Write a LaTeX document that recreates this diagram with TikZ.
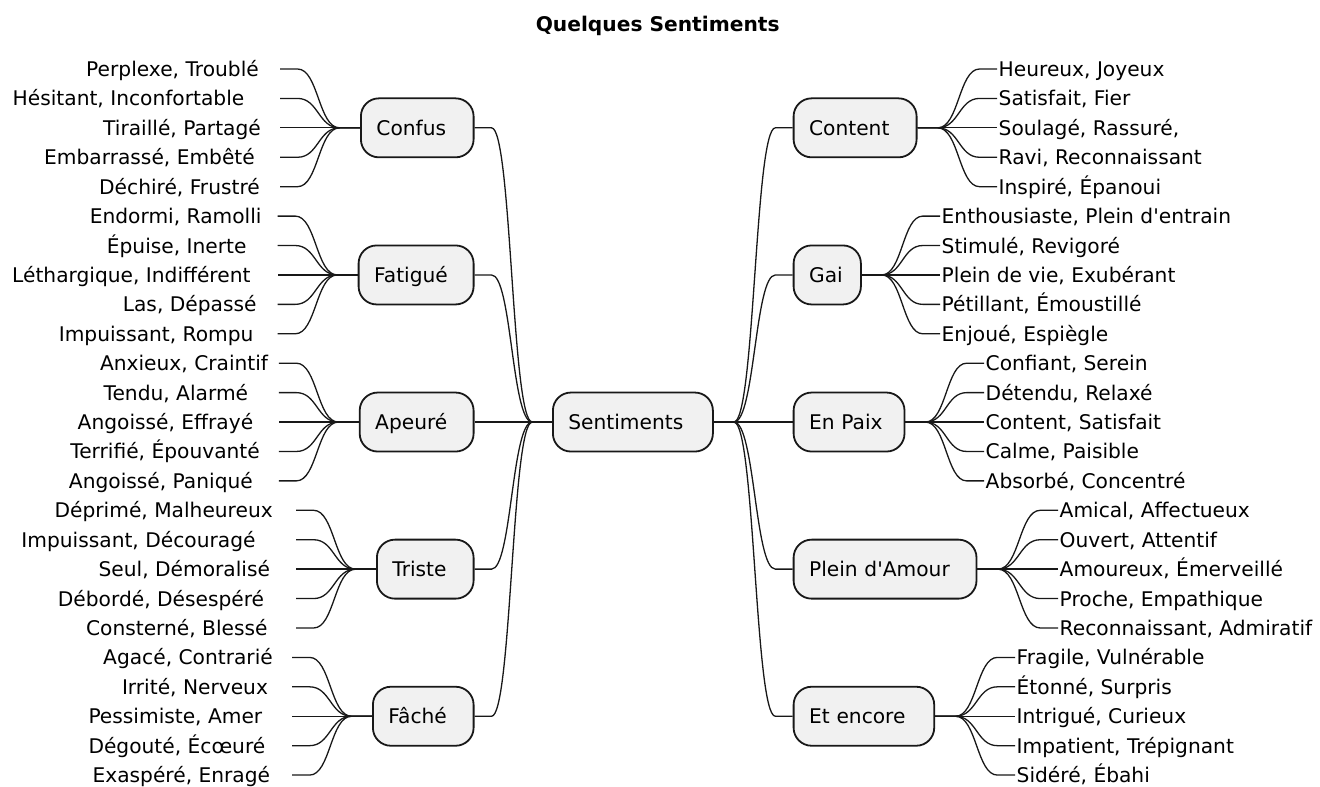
\documentclass[tikz,border=0pt]{standalone}
\usepackage{fontspec}
\setmainfont{DejaVu Sans}
\newfontfamily\mmfam{DejaVu Sans}
\usetikzlibrary{calc}
\definecolor{boxline}{HTML}{181818}
\definecolor{boxfill}{HTML}{F1F1F1}
\newcommand\mmfont{\mmfam\fontsize{20.2}{24}\selectfont}
\newcommand\mmlink[2]{\draw[link] let \p1=(#1), \p2=(#2), \n1={\x2-\x1} in (\p1) -- ({\x1+0.255*(\n1)},\y1) .. controls ({\x1+0.52*(\n1)},\y1) and ({\x1+0.52*(\n1)},\y2) .. ({\x1+0.78*(\n1)},\y2) -- (\p2);}
\tikzset{
  mm/.style={font=\mmfont, text height=18pt, text depth=3pt},
  lvl/.style={mm, draw=boxline, fill=boxfill, line width=1.8pt, rounded corners=18pt, minimum height=59pt, inner xsep=15.5pt, inner ysep=0pt, align=left, anchor=west},
  lleaf/.style={mm, inner sep=0pt, anchor=east},
  rleaf/.style={mm, inner xsep=1.5pt, inner ysep=0pt, anchor=west},
  link/.style={draw=boxline, line width=1.3pt},
}
\begin{document}
\begin{tikzpicture}[x=1pt,y=-1pt]
\useasboundingbox (0,0) rectangle (1320,787);
\node[font=\mmfam\bfseries\fontsize{20.2}{24}\selectfont, anchor=base] (title) at (657.7,31.7) {Quelques Sentiments};

% central and level-1 boxes
\node[lvl, text width=129pt] (sent) at (552,422.04) {Sentiments};
\node[lvl, text width=81.7pt] (confus) at (360,127.84) {Confus};
\node[lvl, text width=84pt] (fatigue) at (357.7,274.94) {Fatigué};
\node[lvl, text width=82.9pt] (apeure) at (358.8,422.04) {Apeuré};
\node[lvl, text width=65.7pt] (triste) at (376,569.14) {Triste};
\node[lvl, text width=69.7pt] (fache) at (372,716.24) {Fâché};
\node[lvl, text width=92pt] (content) at (792.7,127.84) {Content};
\node[lvl, text width=36.3pt] (gai) at (792.7,274.94) {Gai};
\node[lvl, text width=79.9pt] (paix) at (792.7,422.04) {En Paix};
\node[lvl, text width=151.9pt] (amour) at (792.7,569.14) {Plein d'Amour};
\node[lvl, text width=109.6pt] (encore) at (792.7,716.24) {Et encore};

% left leaves
\node[lleaf] (c1) at (280,69.00) {Perplexe, Troublé\hspace*{21pt}};
\node[lleaf] (c2) at (280,98.42) {Hésitant, Inconfortable\hspace*{35.5pt}};
\node[lleaf] (c3) at (280,127.84) {Tiraillé, Partagé\hspace*{19pt}};
\node[lleaf] (c4) at (280,157.26) {Embarrassé, Embêté\hspace*{25pt}};
\node[lleaf] (c5) at (280,186.68) {Déchiré, Frustré\hspace*{20pt}};

\node[lleaf] (f1) at (277.7,216.10) {Endormi, Ramolli\hspace*{16pt}};
\node[lleaf] (f2) at (277.7,245.52) {Épuise, Inerte\hspace*{31pt}};
\node[lleaf] (f3) at (277.7,274.94) {Léthargique, Indifférent\hspace*{27pt}};
\node[lleaf] (f4) at (277.7,304.36) {Las, Dépassé\hspace*{21pt}};
\node[lleaf] (f5) at (277.7,333.78) {Impuissant, Rompu\hspace*{24pt}};

\node[lleaf] (p1) at (278.8,363.20) {Anxieux, Craintif\hspace*{10.5pt}};
\node[lleaf] (p2) at (278.8,392.62) {Tendu, Alarmé\hspace*{30.5pt}};
\node[lleaf] (p3) at (278.8,422.04) {Angoissé, Effrayé\hspace*{25.4pt}};
\node[lleaf] (p4) at (278.8,451.46) {Terrifié, Épouvanté\hspace*{18.8pt}};
\node[lleaf] (p5) at (278.8,480.88) {Angoissé, Paniqué\hspace*{25.8pt}};

\node[lleaf] (t1) at (296,510.30) {Déprimé, Malheureux\hspace*{23pt}};
\node[lleaf] (t2) at (296,539.72) {Impuissant, Découragé\hspace*{40.3pt}};
\node[lleaf] (t3) at (296,569.14) {Seul, Démoralisé\hspace*{25.8pt}};
\node[lleaf] (t4) at (296,598.56) {Débordé, Désespéré\hspace*{31.7pt}};
\node[lleaf] (t5) at (296,627.98) {Consterné, Blessé\hspace*{28.2pt}};

\node[lleaf] (h1) at (292,657.40) {Agacé, Contrarié\hspace*{19pt}};
\node[lleaf] (h2) at (292,686.82) {Irrité, Nerveux\hspace*{23.8pt}};
\node[lleaf] (h3) at (292,716.24) {Pessimiste, Amer\hspace*{29.5pt}};
\node[lleaf] (h4) at (292,745.66) {Dégouté, Écœuré\hspace*{26.5pt}};
\node[lleaf] (h5) at (292,775.08) {Exaspéré, Enragé\hspace*{21.7pt}};

% right leaves
\node[rleaf] (k1) at (997,69.00) {Heureux, Joyeux};
\node[rleaf] (k2) at (997,98.42) {Satisfait, Fier};
\node[rleaf] (k3) at (997,127.84) {Soulagé, Rassuré,};
\node[rleaf] (k4) at (997,157.26) {Ravi, Reconnaissant};
\node[rleaf] (k5) at (997,186.68) {Inspiré, Épanoui};

\node[rleaf] (g1) at (940,216.10) {Enthousiaste, Plein d'entrain};
\node[rleaf] (g2) at (940,245.52) {Stimulé, Revigoré};
\node[rleaf] (g3) at (940,274.94) {Plein de vie, Exubérant};
\node[rleaf] (g4) at (940,304.36) {Pétillant, Émoustillé};
\node[rleaf] (g5) at (940,333.78) {Enjoué, Espiègle};

\node[rleaf] (e1) at (984,363.20) {Confiant, Serein};
\node[rleaf] (e2) at (984,392.62) {Détendu, Relaxé};
\node[rleaf] (e3) at (984,422.04) {Content, Satisfait};
\node[rleaf] (e4) at (984,451.46) {Calme, Paisible};
\node[rleaf] (e5) at (984,480.88) {Absorbé, Concentré};

\node[rleaf] (m1) at (1058,510.30) {Amical, Affectueux};
\node[rleaf] (m2) at (1058,539.72) {Ouvert, Attentif};
\node[rleaf] (m3) at (1058,569.14) {Amoureux, Émerveillé};
\node[rleaf] (m4) at (1058,598.56) {Proche, Empathique};
\node[rleaf] (m5) at (1058,627.98) {Reconnaissant, Admiratif};

\node[rleaf] (r1) at (1015,657.40) {Fragile, Vulnérable};
\node[rleaf] (r2) at (1015,686.82) {Étonné, Surpris};
\node[rleaf] (r3) at (1015,716.24) {Intrigué, Curieux};
\node[rleaf] (r4) at (1015,745.66) {Impatient, Trépignant};
\node[rleaf] (r5) at (1015,775.08) {Sidéré, Ébahi};

% connectors: centre to level 1
\foreach \bx in {confus,fatigue,apeure,triste,fache} {\mmlink{sent.west}{\bx.east}}
\foreach \bx in {content,gai,paix,amour,encore} {\mmlink{sent.east}{\bx.west}}
% connectors: level 1 to leaves
\foreach \i in {1,...,5} {
  \mmlink{confus.west}{c\i.east}
  \mmlink{fatigue.west}{f\i.east}
  \mmlink{apeure.west}{p\i.east}
  \mmlink{triste.west}{t\i.east}
  \mmlink{fache.west}{h\i.east}
  \mmlink{content.east}{k\i.west}
  \mmlink{gai.east}{g\i.west}
  \mmlink{paix.east}{e\i.west}
  \mmlink{amour.east}{m\i.west}
  \mmlink{encore.east}{r\i.west}
}
\end{tikzpicture}
\end{document}
